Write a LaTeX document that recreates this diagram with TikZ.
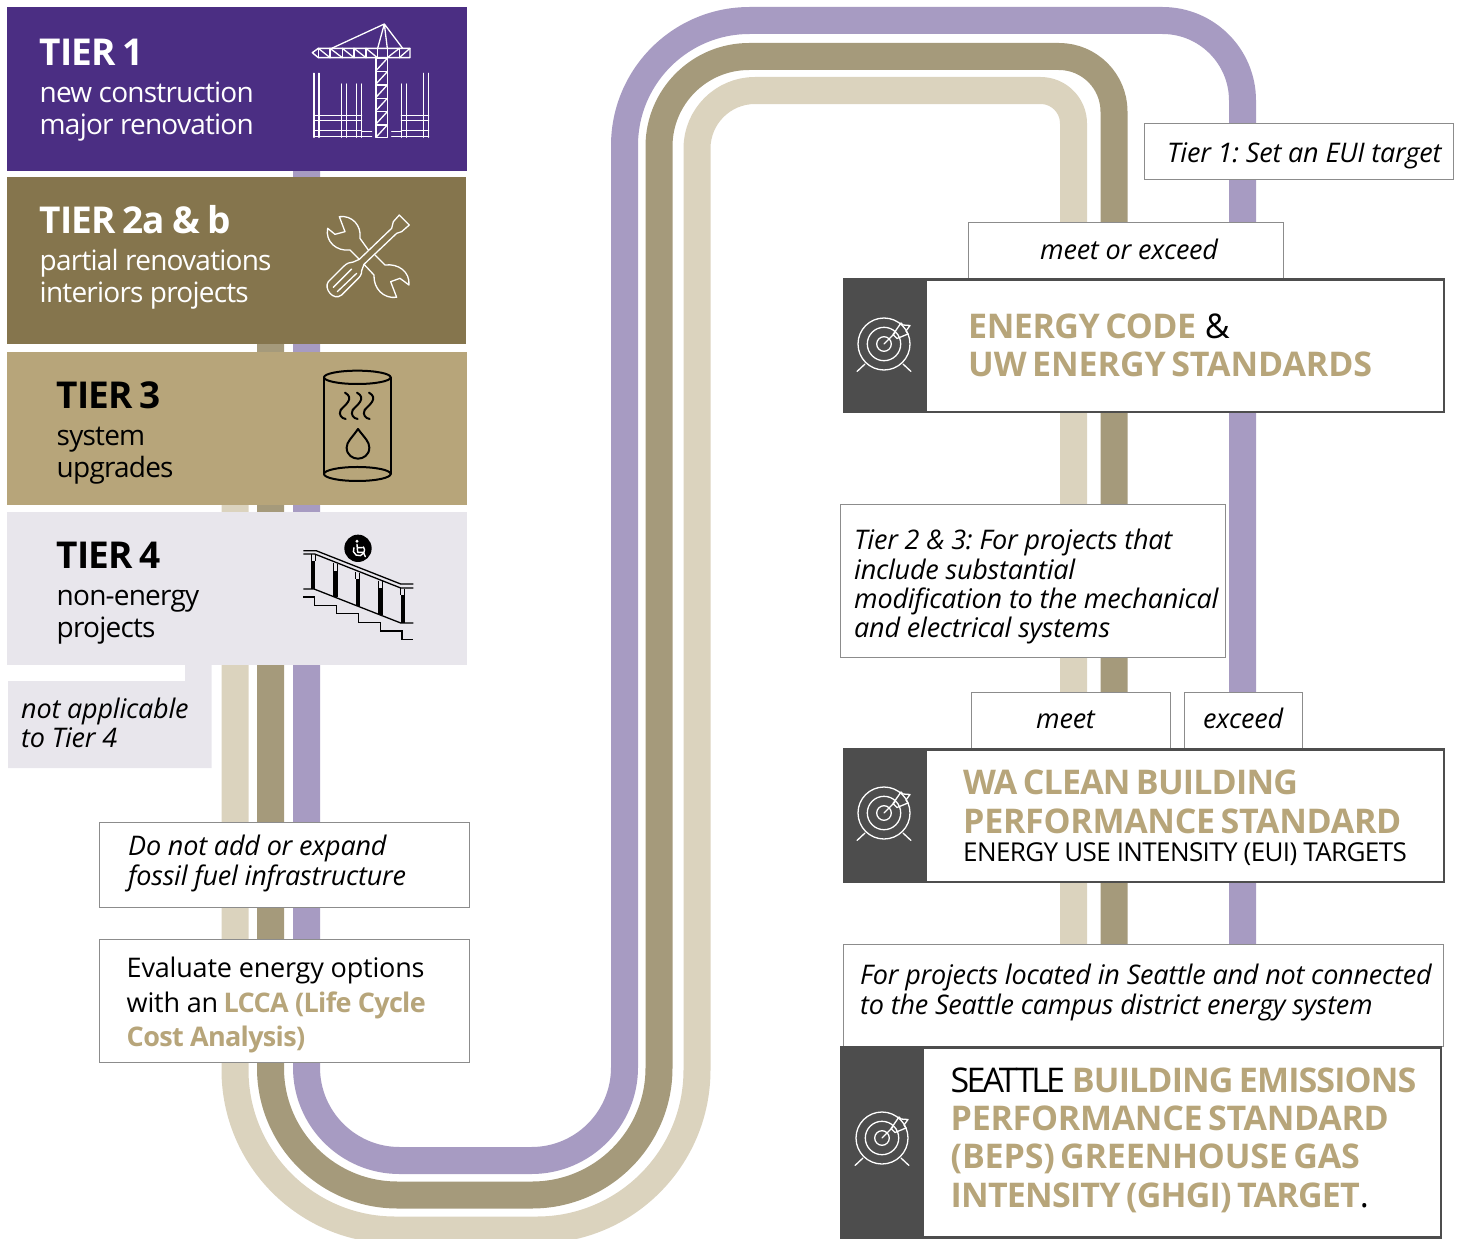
\documentclass[tikz,border=0pt]{standalone}
\usepackage{fontspec}
\setmainfont{Open Sans}
\definecolor{uwpurple}{HTML}{4B2E83}
\definecolor{uwbrown}{HTML}{85754D}
\definecolor{uwgold}{HTML}{B7A57A}
\definecolor{uwpale}{HTML}{E8E6EC}
\definecolor{bandp}{HTML}{A79BC2}
\definecolor{bandb}{HTML}{A59A7B}
\definecolor{bandg}{HTML}{DBD3BE}
\definecolor{dark}{HTML}{4D4D4D}
\frenchspacing
\newcommand{\fs}[1]{\fontsize{#1}{#1}\selectfont}
\newcommand{\hd}[1]{{\addfontfeatures{LetterSpace=-2.8}\bfseries\spaceskip=0.2em\relax #1}}
\newcommand{\gd}[2][-2.5]{{\color{uwgold}\addfontfeatures{LetterSpace=#1}\bfseries #2}}
\newcommand{\gb}[2][-2.5]{{\color{uwgold}\addfontfeatures{LetterSpace=#1}\bfseries\spaceskip=0.16em\relax #2}}
\tikzset{
 band/.style={line width=27pt,line join=round},
 tier/.style={inner sep=0pt,outer sep=0pt,anchor=north west},
 wbox/.style={draw=black!45,line width=0.8pt,fill=white,inner sep=0pt,anchor=north west},
 tbox/.style={draw=dark,line width=2.5pt,fill=white,inner sep=0pt,anchor=north west},
 darkbox/.style={fill=dark,inner sep=0pt,anchor=north west},
 txt/.style={anchor=base west,inner sep=0pt,align=left},
 tname/.style={txt,font=\fs{37}},
 tsub/.style={txt,font=\fs{28}\addfontfeatures{LetterSpace=-2.8}},
 ital/.style={txt,font=\fs{27}\itshape\addfontfeatures{LetterSpace=-0.85}},
 body/.style={txt,font=\fs{27}\addfontfeatures{LetterSpace=-0.7}},
 big/.style={txt,font=\fs{34}},
 icon/.style={line width=#1,line cap=round,line join=round},
 target/.pic={
  \draw[white,line width=1.3pt] (0,0) circle (26) circle (16.7) circle (7.3);
  \draw[white,line width=1.3pt,line cap=round] (-19,20) -- (-27,27.5) (19,20) -- (27,27.5) (0,0) -- (11,-11);
  \draw[white,line width=1.3pt,line join=round] (9,-9.5) -- (17,-21) -- (19,-19) -- (26,-18.5) -- (22,-13) -- (24,-10) -- (13,-5.5) -- cycle;
 }
}
\begin{document}
\begin{tikzpicture}[x=1pt,y=-1pt]
\useasboundingbox (0,0) rectangle (1460,1239);
% bands
\coordinate (ps) at (306.5,165); \coordinate (pe) at (1242.5,950);
\coordinate (bs) at (270.5,340); \coordinate (be) at (1114,950);
\coordinate (gs) at (235,500);   \coordinate (ge) at (1073.5,950);
\draw[band,bandg,rounded corners=160pt] (gs) -- (235,1230) -- (697,1230) [rounded corners=58pt] -- (697,90.5) [rounded corners=33pt] -- (1073.5,90.5) -- (ge);
\draw[band,bandb,rounded corners=127pt] (bs) -- (270.5,1195) -- (659,1195) [rounded corners=90pt] -- (659,56.5) [rounded corners=55pt] -- (1114,56.5) -- (be);
\draw[band,bandp,rounded corners=93pt] (ps) -- (306.5,1160.5) -- (624.5,1160.5) [rounded corners=125pt] -- (624.5,20.5) [rounded corners=80pt] -- (1242.5,20.5) -- (pe);
% tiers
\node[tier,fill=uwpurple,minimum width=460pt,minimum height=164pt] (t1) at (7,7) {};
\node[tier,fill=uwbrown,minimum width=459pt,minimum height=167pt] (t2) at (7,177) {};
\node[tier,fill=uwgold,minimum width=460pt,minimum height=153pt] (t3) at (7,352) {};
\node[tier,fill=uwpale,minimum width=460pt,minimum height=153pt] (t4) at (7,512) {};
\fill[uwpale] (8,681) -- (185,681) -- (185,664) -- (211.5,664) -- (211.5,768) -- (8,768) -- cycle;
\node[tname,white] (t1a) at (39.5,65.5) {\hd{TIER 1}};
\node[tsub,white] (t1b) at (39.5,102.5) {new construction};
\node[tsub,white] (t1c) at (39.5,134.5) {major renovation};
\node[tname,white] (t2a) at (39.5,233.5) {\hd{TIER 2a \& b}};
\node[tsub,white] (t2b) at (39.5,270.5) {partial renovations};
\node[tsub,white] (t2c) at (39.5,302.5) {interiors projects};
\node[tname] (t3a) at (56.5,408.5) {\hd{TIER 3}};
\node[tsub] (t3b) at (56.5,445.5) {system};
\node[tsub] (t3c) at (56.5,477.5) {upgrades};
\node[tname] (t4a) at (56.5,568.5) {\hd{TIER 4}};
\node[tsub] (t4b) at (56.5,605.5) {non-energy};
\node[tsub] (t4c) at (56.5,637.5) {projects};
\node[ital] (na1) at (21,718) {not applicable};
\node[ital] (na2) at (21,747) {to Tier 4};
% crane icon
\begin{scope}[shift={(280,10)},x=0.3333pt,y=-0.3333pt]
 \draw[white,icon=1.4pt] (288,145) rectangle (322,382);
 \draw[white,icon=1.4pt] (97,128) -- (115,115) -- (390,115) -- (390,143) -- (115,143) -- cycle;
 \foreach \a in {115,150,187,222,258,292,322,358}{\draw[white,icon=1.3pt] (\a,115) -- (\a,143);}
 \foreach \a/\b in {115/150,150/187,187/222,222/258,258/292}{\draw[white,icon=1.3pt] (\a,115) -- (\b,143);}
 \foreach \a/\b in {322/358,358/390}{\draw[white,icon=1.3pt] (\a,143) -- (\b,115);}
 \draw[white,icon=1.3pt] (288,185) -- (322,185) (288,225) -- (322,225) (288,265) -- (322,265) (288,305) -- (322,305) (288,345) -- (322,345);
 \foreach \y in {145,185,225,265,305,345}{\draw[white,icon=1.3pt] (288,\y+37) -- (322,\y);}
 \draw[white,icon=1.3pt] (155,115) -- (313,42) -- (293,115) (313,42) -- (322,115) (313,42) -- (368,115);
 \foreach \a/\t in {102/190,117/190,185/222,200/222,229/222,245/222,364/222,379/222,431/190,446/190}{\draw[white,icon=1.3pt] (\a,\t) -- (\a,382);}
 \foreach \y in {317,331,362,380}{\draw[white,icon=1.3pt] (102,\y) -- (245,\y) (364,\y) -- (446,\y);}
 \draw[white,icon=1.3pt] (245,364) -- (275,364) (245,380) -- (275,380) (335,364) -- (364,364) (335,380) -- (364,380);
\end{scope}
% tools icon
\begin{scope}[shift={(300,200)},x=0.3333pt,y=-0.3333pt]
 \draw[white,icon=1.3pt] (205,150) -- (180,115) .. controls (185,75) and (155,45) .. (118,50) -- (135,95) -- (105,103) -- (83,85) .. controls (75,125) and (110,155) .. (150,150) -- (178,178);
 \draw[white,icon=1.3pt] (225,165) -- (255,195) .. controls (295,190) and (330,215) .. (327,255) -- (300,235) -- (272,245) -- (290,292) .. controls (250,297) and (220,265) .. (222,225) -- (192,193);
 \draw[white,icon=1.3pt] (178,178) -- (275,85) -- (280,65) -- (298,45) -- (328,75) -- (305,95) -- (290,100) -- (192,193);
 \draw[white,icon=1.3pt] (178,178) -- (160,186) .. controls (150,186) and (140,190) .. (130,200) -- (85,245) .. controls (70,265) and (100,305) .. (125,285) -- (170,240) .. controls (180,230) and (185,225) .. (185,212) -- (192,193);
 \draw[white,icon=1.3pt] (100,262) -- (155,207) (112,275) -- (170,220);
\end{scope}
% tank icon, railing icon
\begin{scope}[shift={(290,360)},x=0.3333pt,y=-0.3333pt]
 \draw[black,icon=2pt] (102,52) -- (102,342) (302,52) -- (302,342);
 \draw[black,icon=2pt] (202,52) ellipse [x radius=100,y radius=20];
 \draw[black,icon=2pt] (202,342) ellipse [x radius=100,y radius=21];
 \foreach \d in {0,36,72}{\draw[black,icon=2pt] (165+\d,98) .. controls (195+\d,115) and (165+\d,135) .. (152+\d,150) .. controls (145+\d,165) and (155+\d,175) .. (167+\d,177);}
 \draw[black,icon=2pt] (204,207) .. controls (225,235) and (238,245) .. (238,263) .. controls (238,285) and (220,296) .. (204,296) .. controls (188,296) and (170,285) .. (170,263) .. controls (170,245) and (185,235) .. (204,207) -- cycle;
 % railing
 \draw[black,line width=1.3pt] (40,572) -- (78,572) -- (332,672) -- (370,672) (40,582) -- (74,582) -- (332,684) -- (370,684);
 \draw[black,line width=1.3pt] (40,687) -- (72,687) -- (332,789) -- (370,789);
 \foreach \a/\u/\v in {69/604/687,137/632/712,204/658/738,272/684/764,339/706/789}{\fill[black] (\a-6.5,\u) rectangle (\a+6.5,\v); \draw[black,line width=1pt] (\a-6,\u-22) -- (\a-6,\u) (\a+6,\u-20) -- (\a+6,\u);}
 \draw[black,line width=1.3pt] (40,711) -- (74,711) -- (74,736) -- (139,736) -- (139,761) -- (205,761) -- (205,787) -- (271,787) -- (271,813) -- (336,813) -- (336,838) -- (370,838);
 \fill[black] (204,565) circle (41);
 \draw[white,line width=1.4pt,line cap=round,line join=round] (201,553) -- (203,577) -- (220,577) -- (226,590) (203,563) -- (217,563);
 \draw[white,line width=1.4pt] (192,562) arc[start angle=210,end angle=-40,radius=17];
 \fill[white] (201,544) circle (5);
\end{scope}
% left boxes
\node[wbox,minimum width=370pt,minimum height=85pt] (fuel) at (99,822) {};
\node[ital] (f1) at (128,855.5) {Do not add or expand};
\node[ital] (f2) at (128,885.5) {fossil fuel infrastructure};
\node[wbox,minimum width=370pt,minimum height=122.5pt] (lcca) at (99,939) {};
\node[body] (l1) at (126.5,977) {Evaluate energy options};
\node[body] (l2) at (126.5,1012) {with an\hspace{-1.5pt} \gd{LCCA (Life Cycle}};
\node[body] (l3) at (126.5,1046) {\gd{Cost Analysis)}};
% right boxes
\node[wbox,minimum width=309pt,minimum height=56pt] (b1) at (1144,123) {};
\node[ital] at (1167,162) {Tier 1: Set an EUI target};
\node[wbox,minimum width=314.5pt,minimum height=56pt] (b2) at (968,222) {};
\node[ital] at (1040,259) {meet or exceed};
\node[tbox,minimum width=599.5pt,minimum height=132.5pt] (e) at (843,278) {};
\node[darkbox,minimum width=84pt,minimum height=135pt] (ei) at (842.5,277.5) {};
\pic at (884,344) {target};
\node[big] at (968,338) {\gb[-1.4]{ENERGY CODE} \&};
\node[big] at (968,376) {\gb[-0.2]{UW ENERGY STANDARDS}};
\node[wbox,minimum width=384.5pt,minimum height=152.5pt] (b3) at (840,504) {};
\node[ital] at (854,549) {Tier 2 \& 3: For projects that};
\node[ital] at (854,579) {include substantial};
\node[ital] at (854,608) {modification to the mechanical};
\node[ital] at (854,637) {and electrical systems};
\node[wbox,minimum width=198.5pt,minimum height=56pt] (b4) at (971,692) {};
\node[ital] at (1036,728) {meet};
\node[wbox,minimum width=117.5pt,minimum height=56pt] (b5) at (1184,692) {};
\node[ital] at (1203,728) {exceed};
\node[tbox,minimum width=599.5pt,minimum height=132.5pt] (w) at (843,748) {};
\node[darkbox,minimum width=84pt,minimum height=135pt] (wi) at (842.5,747.5) {};
\pic at (884,813) {target};
\node[big] at (963,794) {\gb[-2.4]{WA CLEAN BUILDING}};
\node[big] at (963,833) {\gb[-0.85]{PERFORMANCE STANDARD}};
\node[txt,font=\fs{26}] at (963,861) {\addfontfeatures{LetterSpace=-2.4}ENERGY USE INTENSITY (EUI) TARGETS};
\node[wbox,minimum width=599.5pt,minimum height=102pt] (b6) at (843,944) {};
\node[ital] at (860,984) {For projects located in Seattle and not connected};
\node[ital] at (860,1014) {to the Seattle campus district energy system};
\node[tbox,minimum width=599.5pt,minimum height=190pt] (s) at (840,1046) {};
\node[darkbox,minimum width=84pt,minimum height=193pt] (si) at (839.5,1045.5) {};
\pic at (882,1138) {target};
\node[big] at (950.5,1092) {{\addfontfeatures{LetterSpace=-8.4}SEATTLE}\hspace{-2pt} \gb[-2.6]{BUILDING EMISSIONS}};
\node[big] at (950.5,1130) {\gb[-0.85]{PERFORMANCE STANDARD}};
\node[big] at (950.5,1168) {\gb[-0.55]{(BEPS) GREENHOUSE GAS}};
\node[big] at (950.5,1207) {\gb[-2.3]{INTENSITY (GHGI) TARGET}.};
\end{tikzpicture}
\end{document}
